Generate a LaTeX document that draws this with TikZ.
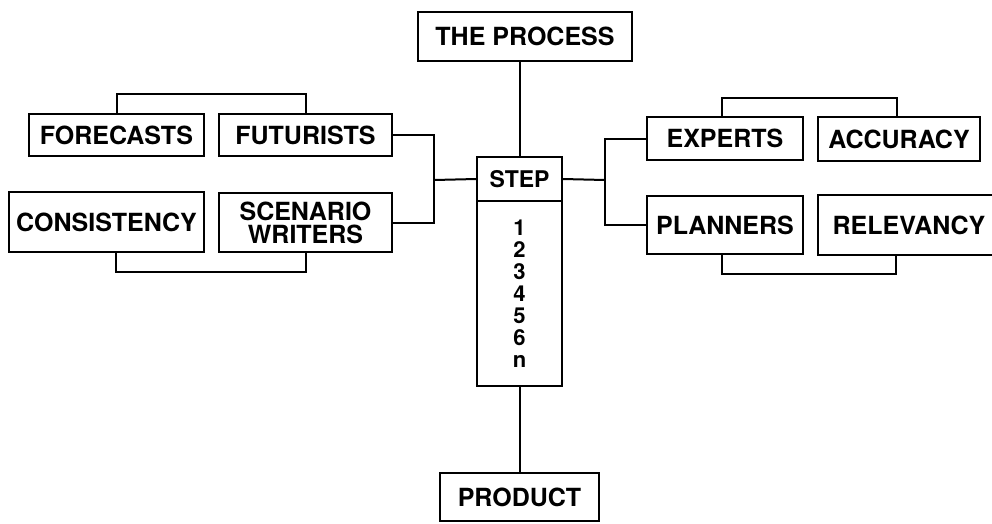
\documentclass[tikz,border=0pt]{standalone}
\usepackage{fontspec}
\setmainfont{TeX Gyre Heros}
\begin{document}
\begin{tikzpicture}[x=1pt,y=-1pt,
  box/.style={draw, line width=2pt, inner sep=0pt, align=center,
    font=\bfseries\fontsize{25}{23}\selectfont},
  conn/.style={line width=2pt}]
\useasboundingbox (0,0) rectangle (992,523);
\clip (0,0) rectangle (992,523);
\node[box, minimum width=214, minimum height=49] (proc) at (525,36.5) {THE PROCESS};
\node[box, minimum width=85, minimum height=44, font=\bfseries\fontsize{23}{22}\selectfont] (step) at (519.5,179) {STEP};
\node[box, minimum width=85, minimum height=185, font=\bfseries\fontsize{22}{22}\selectfont] (steps) at (519.5,293.5) {1\\2\\3\\4\\5\\6\\n};
\node[box, minimum width=159, minimum height=48] (prod) at (519.5,497) {PRODUCT};
\node[box, minimum width=175, minimum height=42] (fore) at (116.5,135) {FORECASTS};
\node[box, minimum width=173, minimum height=42] (futur) at (305.5,135) {FUTURISTS};
\node[box, minimum width=195, minimum height=60] (cons) at (106.5,222) {CONSISTENCY};
\node[box, minimum width=173, minimum height=59] (scen) at (305.5,222.5) {SCENARIO\\WRITERS};
\node[box, minimum width=156, minimum height=43] (exp) at (725,138.5) {EXPERTS};
\node[box, minimum width=162, minimum height=44] (acc) at (899,139) {ACCURACY};
\node[box, minimum width=156, minimum height=58] (plan) at (725,225) {PLANNERS};
\node[box, minimum width=182, minimum height=60] (rel) at (909,225) {RELEVANCY};
\coordinate (lj) at (434,180);
\coordinate (rj) at (605,180);
% main spine
\draw[conn] (proc.south -| step.north) -- (step.north);
\draw[conn] (steps.south) -- (prod.north);
% left fork
\draw[conn] (futur.east) -| (lj) |- (scen.east);
\draw[conn] (lj) -- (step.west);
% right fork
\draw[conn] (exp.west) -| (rj) |- (plan.west);
\draw[conn] (rj) -- (step.east);
% brackets
\draw[conn] (fore.north) -- ++(0,-19) -| (futur.north);
\draw[conn] ([xshift=9.5pt]cons.south) -- ++(0,19) -| ([xshift=0.5pt]scen.south);
\draw[conn] ([xshift=-3pt]exp.north) -- ++(0,-18) -| ([xshift=-2pt]acc.north);
\draw[conn] ([xshift=-3pt]plan.south) -- ++(0,19) -| ([xshift=-13pt]rel.south);
\end{tikzpicture}
\end{document}
